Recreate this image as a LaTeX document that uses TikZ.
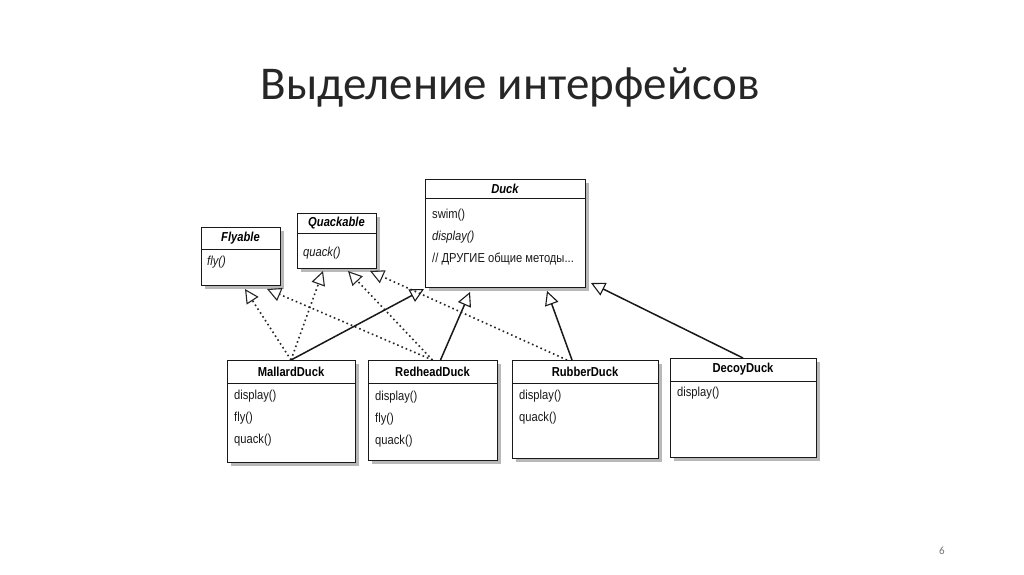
\documentclass[tikz,border=0pt]{standalone}
\usepackage{fontspec}
\setmainfont{Carlito}
\newfontfamily\umlfont[FakeStretch=0.86]{Liberation Sans}
\usetikzlibrary{arrows.meta, positioning, shadows}

\tikzset{
  classhead/.style={draw=black!90, line width=1pt, fill=white, outer sep=0pt, inner sep=0pt,
    drop shadow={shadow xshift=4pt, shadow yshift=-4pt, fill=black!55},
    font=\umlfont\fontsize{13}{15}\selectfont\bfseries},
  classbody/.style={classhead, font=\umlfont\fontsize{13}{22}\selectfont},
  methods/.style={anchor=north west, align=left, inner sep=0pt, text=black!90,
    font=\umlfont\fontsize{13}{22}\selectfont},
  realize/.style={draw=black!85, line width=1.6pt, dash pattern=on 1.6pt off 3pt,
    -{Triangle[open, length=14pt, width=14pt, line width=1.1pt]}},
  extends/.style={draw=black!90, line width=1.5pt,
    -{Triangle[open, length=14pt, width=14pt, line width=1.1pt]}},
}

\begin{document}
\begin{tikzpicture}[x=1pt, y=-1pt]
  % Slide background and size
  \fill[white] (0,0) rectangle (1024,574);
  \useasboundingbox (0,0) rectangle (1024,574);
  % Title
  \node[anchor=base, font=\fontsize{47}{56}\selectfont, text=black!85] (title) at (510,99)
    {Выделение интерфейсов};
  % Interfaces
  \node[classhead, anchor=north west, minimum width=79pt, minimum height=22pt] (flyable) at (201,227) {\itshape Flyable};
  \node[classbody, below=0pt of flyable, minimum width=79pt, minimum height=36pt] (flyable-b) {};
  \node[methods] (flyable-m) at ([xshift=6pt, yshift=-7pt]flyable-b.north west) {\itshape fly()};
  \node[classhead, anchor=north west, minimum width=79pt, minimum height=20pt] (quackable) at (297,213) {\itshape Quackable};
  \node[classbody, below=0pt of quackable, minimum width=79pt, minimum height=35pt] (quackable-b) {};
  \node[methods] (quackable-m) at ([xshift=6pt, yshift=-14pt]quackable-b.north west) {\itshape quack()};
  % Superclass
  \node[classhead, anchor=north west, minimum width=160pt, minimum height=19pt] (duck) at (425,179) {\itshape Duck};
  \node[classbody, below=0pt of duck, minimum width=160pt, minimum height=89pt] (duck-b) {};
  \node[methods] (duck-m) at ([xshift=7pt, yshift=-11pt]duck-b.north west)
    {swim()\\\textit{display()}\\// ДРУГИЕ общие методы...};
  % Subclasses
  \node[classhead, anchor=north west, minimum width=128pt, minimum height=23pt] (mallard) at (227,360) {MallardDuck};
  \node[classbody, below=0pt of mallard, minimum width=128pt, minimum height=79pt] (mallard-b) {};
  \node[methods] (mallard-m) at ([xshift=7pt, yshift=-7pt]mallard-b.north west) {display()\\fly()\\quack()};
  \node[classhead, anchor=north west, minimum width=129pt, minimum height=23pt] (redhead) at (368,360) {RedheadDuck};
  \node[classbody, below=0pt of redhead, minimum width=129pt, minimum height=77pt] (redhead-b) {};
  \node[methods] (redhead-m) at ([xshift=7pt, yshift=-8pt]redhead-b.north west) {display()\\fly()\\quack()};
  \node[classhead, anchor=north west, minimum width=146pt, minimum height=23pt] (rubber) at (512,360) {RubberDuck};
  \node[classbody, below=0pt of rubber, minimum width=146pt, minimum height=75pt] (rubber-b) {};
  \node[methods] (rubber-m) at ([xshift=7pt, yshift=-7pt]rubber-b.north west) {display()\\quack()};
  \node[classhead, anchor=north west, minimum width=146pt, minimum height=23pt] (decoy) at (670,358) {DecoyDuck};
  \node[classbody, below=0pt of decoy, minimum width=146pt, minimum height=76pt] (decoy-b) {};
  \node[methods] (decoy-m) at ([xshift=7pt, yshift=-6pt]decoy-b.north west) {display()};
  % Implementations (dotted)
  \draw[realize] (mallard.north) -- ([xshift=4.5pt, yshift=-4pt]flyable-b.south);
  \draw[realize] (redhead.north) -- ([xshift=26.5pt, yshift=-4pt]flyable-b.south);
  \draw[realize] (mallard.north) -- ([xshift=-13.5pt, yshift=-3pt]quackable-b.south);
  \draw[realize] (redhead.north) -- ([xshift=11.5pt, yshift=-3pt]quackable-b.south);
  \draw[realize] ([xshift=-18pt]rubber.north) -- ([xshift=33.5pt, yshift=-3pt]quackable-b.south);
  % Inheritance (solid)
  \draw[extends] (mallard.north) -- ([xshift=-1pt, yshift=-2pt]duck-b.south west);
  \draw[extends] ([xshift=8pt]redhead.north) -- ([xshift=-35pt, yshift=-5pt]duck-b.south);
  \draw[extends] ([xshift=-13pt]rubber.north) -- ([xshift=42pt, yshift=-4pt]duck-b.south);
  \draw[extends] (decoy.north) -- ([xshift=6pt, yshift=4pt]duck-b.south east);
  % Page number
  \node[font=\fontsize{11}{13}\selectfont, text=black!55] (page) at (942,551) {6};
\end{tikzpicture}
\end{document}
